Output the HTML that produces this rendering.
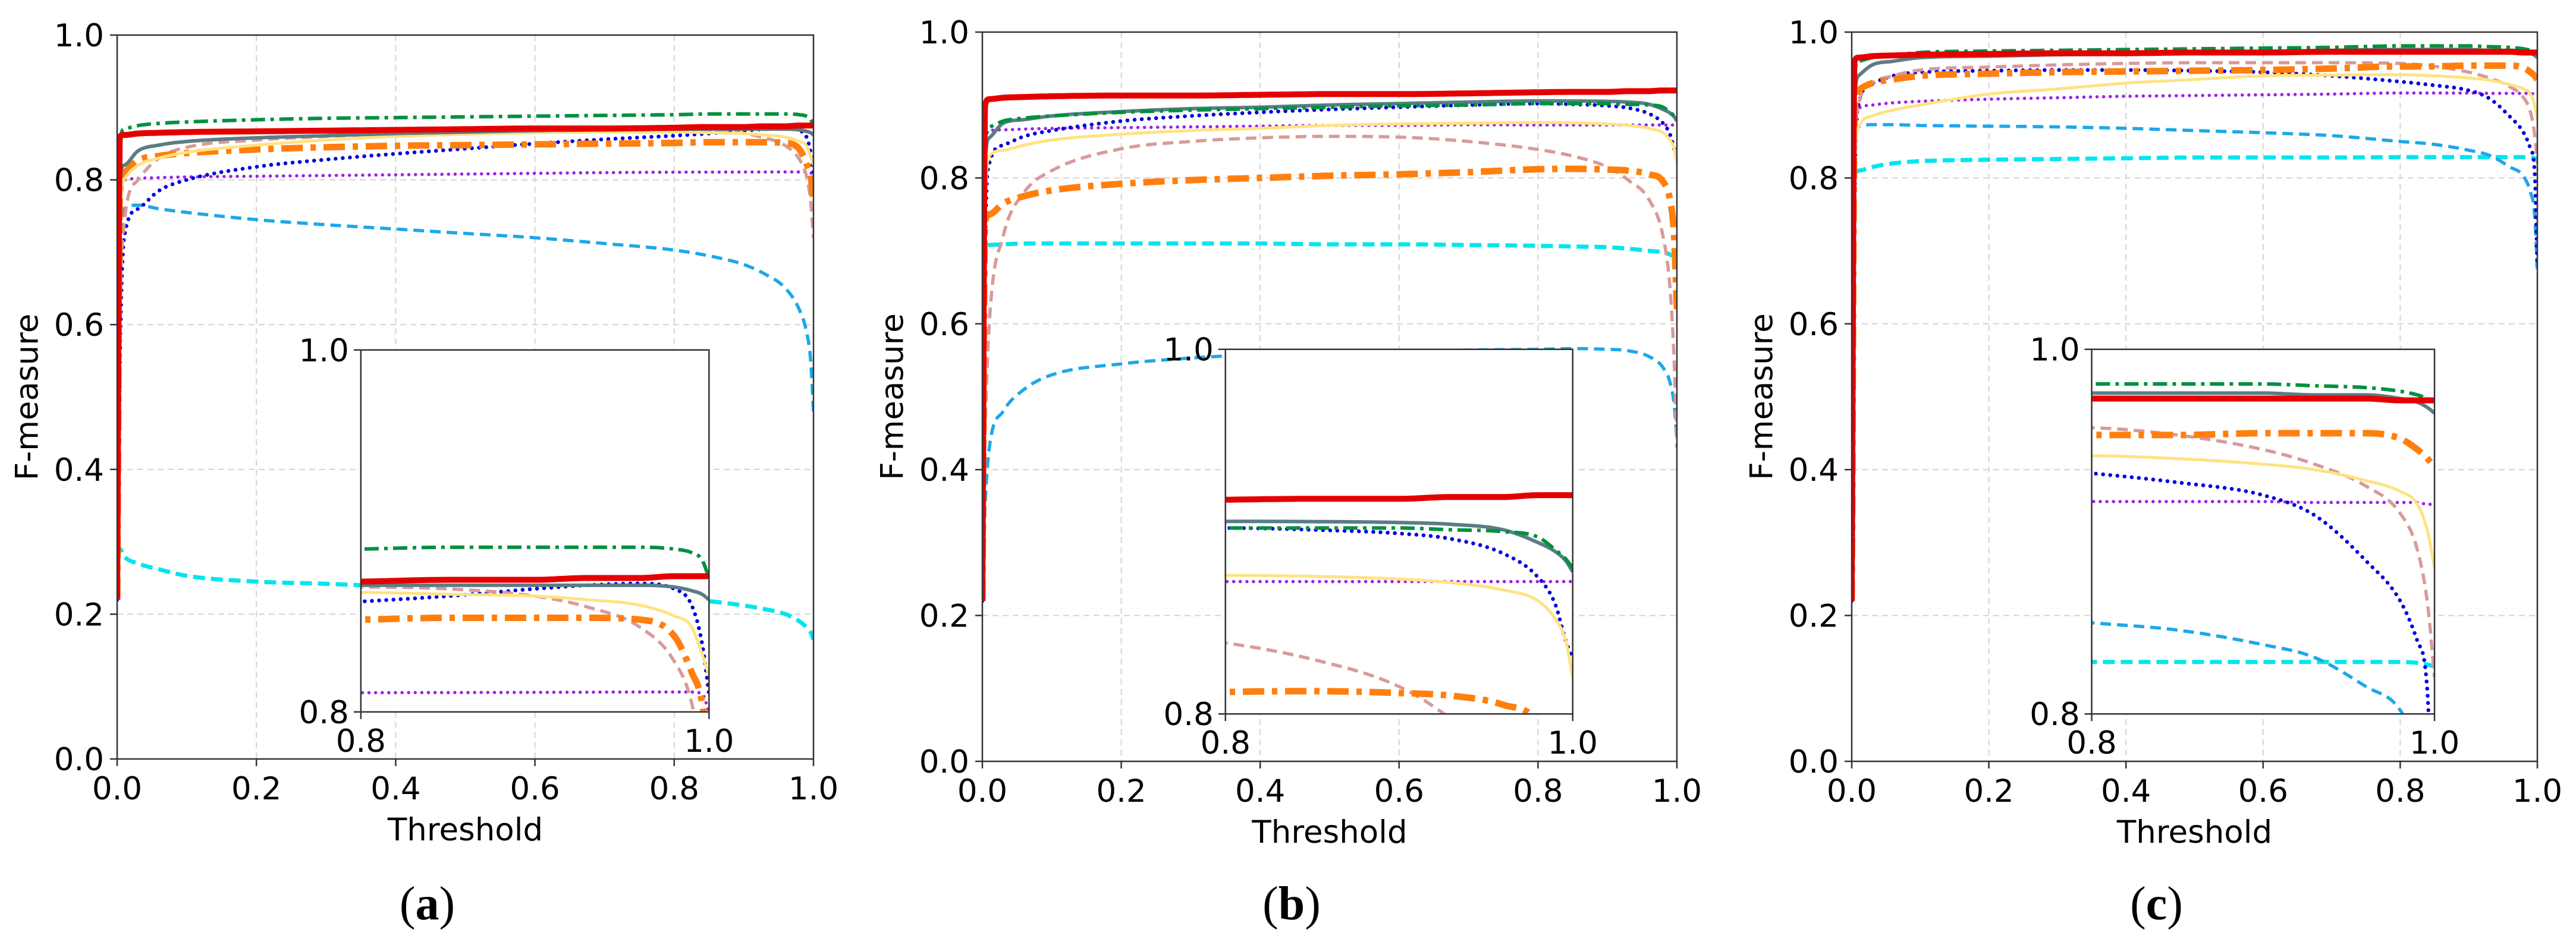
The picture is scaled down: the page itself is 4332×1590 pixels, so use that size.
<!DOCTYPE html>
<html>
<head>
<meta charset="utf-8">
<style>
html,body{margin:0;padding:0;background:#fff;overflow:hidden;width:4332px;height:1590px;}
svg{display:block;}
text{font-family:"DejaVu Sans","Liberation Sans",sans-serif;fill:#000;}
.cap{font-family:"Liberation Serif",serif;}
</style>
</head>
<body>
<svg id="fig" xmlns="http://www.w3.org/2000/svg" width="4332" height="1590" viewBox="0 0 4332 1590"></svg>
<script>
// ---- data ----
const thresholds = [0,0.004,0.01,0.03,0.06,0.1,0.2,0.3,0.4,0.5,0.6,0.7,0.8,0.85,0.9,0.93,0.96,0.98,0.99,0.996,1.0];
const axisTicks = [0,0.2,0.4,0.6,0.8,1.0];
const axisTickLabels = ["0.0","0.2","0.4","0.6","0.8","1.0"];
const insetTicks = [0.8,1.0];
const insetTickLabels = ["0.8","1.0"];
const captions = ["(a)","(b)","(c)"];

// panel (a)
const aCyan    = [0.28,0.29,0.28,0.27,0.262,0.253,0.245,0.242,0.238,0.235,0.232,0.228,0.222,0.218,0.212,0.207,0.2,0.19,0.182,0.175,0.165];
const aSky     = [0.22,0.6,0.76,0.765,0.76,0.755,0.745,0.738,0.732,0.726,0.72,0.712,0.703,0.695,0.683,0.67,0.65,0.62,0.59,0.55,0.48];
const aPurple  = [0.22,0.78,0.8,0.802,0.803,0.804,0.805,0.806,0.807,0.808,0.809,0.81,0.8106,0.8107,0.8108,0.8109,0.811,0.811,0.811,0.81,0.8];
const aBlue    = [0.22,0.55,0.72,0.76,0.785,0.8,0.818,0.828,0.836,0.843,0.85,0.856,0.861,0.864,0.868,0.87,0.871,0.868,0.859,0.838,0.81];
const aPink    = [0.22,0.6,0.74,0.8,0.83,0.845,0.855,0.86,0.864,0.866,0.868,0.869,0.869,0.868,0.864,0.858,0.847,0.828,0.805,0.77,0.72];
const aOrange  = [0.22,0.78,0.81,0.827,0.833,0.837,0.842,0.845,0.847,0.848,0.849,0.85,0.851,0.852,0.852,0.852,0.851,0.842,0.822,0.805,0.77];
const aYellow  = [0.22,0.75,0.8,0.82,0.83,0.838,0.848,0.855,0.86,0.863,0.865,0.866,0.866,0.865,0.864,0.862,0.859,0.853,0.847,0.832,0.82];
const aSlate   = [0.22,0.8,0.82,0.84,0.848,0.853,0.858,0.861,0.864,0.866,0.868,0.869,0.87,0.87,0.87,0.87,0.87,0.869,0.867,0.865,0.862];
const aGreen   = [0.22,0.85,0.87,0.875,0.878,0.88,0.883,0.885,0.886,0.887,0.888,0.889,0.89,0.891,0.891,0.891,0.891,0.89,0.888,0.884,0.874];
const aRed     = [0.22,0.86,0.862,0.864,0.865,0.866,0.867,0.868,0.869,0.87,0.871,0.871,0.872,0.873,0.873,0.874,0.874,0.875,0.875,0.875,0.875];

// panel (b)
const bCyan    = [0.22,0.7,0.708,0.709,0.71,0.71,0.71,0.71,0.71,0.709,0.709,0.708,0.707,0.706,0.705,0.703,0.7,0.698,0.695,0.692,0.69];
const bSky     = [0.22,0.35,0.43,0.48,0.51,0.53,0.545,0.553,0.558,0.56,0.562,0.564,0.565,0.566,0.565,0.563,0.555,0.54,0.52,0.49,0.44];
const bPurple  = [0.22,0.84,0.865,0.866,0.867,0.868,0.869,0.87,0.871,0.872,0.872,0.873,0.8726,0.8726,0.8726,0.8726,0.8726,0.8726,0.8726,0.8726,0.8726];
const bBlue    = [0.22,0.7,0.82,0.845,0.857,0.865,0.878,0.885,0.89,0.894,0.897,0.9,0.902,0.901,0.899,0.896,0.888,0.875,0.86,0.84,0.83];
const bPink    = [0.22,0.45,0.6,0.72,0.78,0.81,0.84,0.85,0.855,0.857,0.856,0.85,0.839,0.83,0.815,0.797,0.77,0.72,0.65,0.55,0.43];
const bOrange  = [0.22,0.74,0.75,0.765,0.775,0.783,0.792,0.797,0.8,0.803,0.805,0.808,0.812,0.8125,0.8115,0.81,0.805,0.795,0.77,0.72,0.62];
const bYellow  = [0.22,0.75,0.83,0.838,0.845,0.852,0.86,0.865,0.868,0.872,0.874,0.875,0.876,0.8755,0.874,0.872,0.868,0.862,0.852,0.84,0.82];
const bSlate   = [0.22,0.82,0.855,0.875,0.88,0.885,0.891,0.895,0.897,0.9,0.902,0.904,0.9056,0.9055,0.905,0.904,0.901,0.894,0.889,0.884,0.878];
const bGreen   = [0.22,0.85,0.87,0.878,0.882,0.885,0.89,0.893,0.895,0.897,0.899,0.9,0.902,0.902,0.902,0.901,0.9,0.897,0.89,0.885,0.88];
const bRed     = [0.22,0.9,0.908,0.91,0.911,0.912,0.913,0.913,0.914,0.915,0.915,0.916,0.9175,0.918,0.918,0.919,0.919,0.92,0.92,0.92,0.92];

// panel (c)
const cCyan    = [0.22,0.8,0.81,0.815,0.82,0.823,0.825,0.826,0.827,0.828,0.828,0.828,0.8285,0.8285,0.8285,0.8285,0.8285,0.8285,0.828,0.827,0.826];
const cSky     = [0.22,0.8,0.87,0.873,0.873,0.872,0.871,0.87,0.868,0.865,0.862,0.858,0.85,0.846,0.838,0.831,0.815,0.802,0.78,0.75,0.67];
const cPurple  = [0.22,0.85,0.895,0.9,0.903,0.905,0.908,0.91,0.912,0.913,0.914,0.915,0.9165,0.9165,0.9165,0.916,0.916,0.916,0.916,0.915,0.915];
const cBlue    = [0.22,0.75,0.9,0.93,0.94,0.945,0.947,0.948,0.948,0.947,0.945,0.94,0.932,0.927,0.92,0.909,0.884,0.862,0.84,0.81,0.68];
const cPink    = [0.22,0.8,0.9,0.93,0.94,0.948,0.952,0.955,0.957,0.958,0.958,0.958,0.957,0.953,0.945,0.937,0.925,0.91,0.89,0.86,0.82];
const cOrange  = [0.22,0.88,0.92,0.93,0.935,0.94,0.943,0.945,0.946,0.947,0.948,0.95,0.953,0.953,0.954,0.954,0.954,0.951,0.945,0.94,0.935];
const cYellow  = [0.22,0.8,0.87,0.885,0.893,0.9,0.915,0.922,0.93,0.935,0.94,0.941,0.9416,0.94,0.937,0.934,0.928,0.922,0.915,0.9,0.88];
const cSlate   = [0.22,0.9,0.94,0.955,0.96,0.965,0.967,0.969,0.97,0.972,0.973,0.975,0.976,0.976,0.976,0.975,0.975,0.973,0.971,0.968,0.965];
const cGreen   = [0.22,0.94,0.96,0.965,0.968,0.972,0.974,0.975,0.976,0.977,0.978,0.979,0.981,0.981,0.981,0.98,0.979,0.977,0.975,0.973,0.972];
const cRed     = [0.22,0.96,0.965,0.967,0.968,0.969,0.97,0.971,0.971,0.972,0.972,0.973,0.973,0.973,0.973,0.973,0.973,0.972,0.972,0.972,0.972];

// ---- styles & layout ----
const styles = {
  cyan:{c:"#00e5ee",w:7,d:"20 10",cap:"butt"},
  sky:{c:"#1ea7ea",w:5.5,d:"18 10",cap:"butt"},
  purple:{c:"#9b22e8",w:5.5,d:"0.1 11",cap:"round"},
  blue:{c:"#0000dd",w:6.5,d:"0.1 12",cap:"round"},
  pink:{c:"#d99a9a",w:5.5,d:"18 10",cap:"butt"},
  orange:{c:"#ff7f0e",w:11,d:"36 13 9 13",cap:"butt"},
  yellow:{c:"#ffe382",w:5,d:"",cap:"butt"},
  slate:{c:"#5b7d85",w:6,d:"",cap:"butt"},
  green:{c:"#00913f",w:6,d:"24 9 6 9",cap:"butt"},
  red:{c:"#e50000",w:10,d:"",cap:"butt"}
};
const panels = [
  {id:"a",L:197,R:1368,T:59,B:1277,series:{cyan:aCyan,sky:aSky,purple:aPurple,blue:aBlue,pink:aPink,orange:aOrange,yellow:aYellow,slate:aSlate,green:aGreen,red:aRed}},
  {id:"b",L:1652,R:2820,T:54,B:1281,series:{cyan:bCyan,sky:bSky,purple:bPurple,blue:bBlue,pink:bPink,orange:bOrange,yellow:bYellow,slate:bSlate,green:bGreen,red:bRed}},
  {id:"c",L:3114,R:4267,T:54,B:1281,series:{cyan:cCyan,sky:cSky,purple:cPurple,blue:cBlue,pink:cPink,orange:cOrange,yellow:cYellow,slate:cSlate,green:cGreen,red:cRed}}
];

const NS="http://www.w3.org/2000/svg";
const svg=document.getElementById("fig");
function mk(tag,attrs,parent){const e=document.createElementNS(NS,tag);for(const k in attrs)e.setAttribute(k,attrs[k]);(parent||svg).appendChild(e);return e;}

// monotone cubic sampling
function sampleCurve(xs,ys){
  const n=xs.length,d=[],m=new Array(n).fill(0);
  for(let i=0;i<n-1;i++)d.push((ys[i+1]-ys[i])/(xs[i+1]-xs[i]));
  m[0]=d[0];m[n-1]=d[n-2];
  for(let i=1;i<n-1;i++){m[i]=(d[i-1]*d[i]<=0)?0:(d[i-1]+d[i])/2;}
  for(let i=0;i<n-1;i++){
    if(d[i]===0){m[i]=0;m[i+1]=0;continue;}
    const a=m[i]/d[i],b=m[i+1]/d[i],s=a*a+b*b;
    if(s>9){const t=3/Math.sqrt(s);m[i]=t*a*d[i];m[i+1]=t*b*d[i];}
  }
  const pts=[];
  for(let i=0;i<n-1;i++){
    const h=xs[i+1]-xs[i],N=14;
    for(let k=0;k<N;k++){const t=k/N,t2=t*t,t3=t2*t;
      const y=(2*t3-3*t2+1)*ys[i]+(t3-2*t2+t)*h*m[i]+(-2*t3+3*t2)*ys[i+1]+(t3-t2)*h*m[i+1];
      pts.push([xs[i]+t*h,y]);}
  }
  pts.push([xs[n-1],ys[n-1]]);
  return pts;
}

const order=["cyan","sky","purple","blue","pink","orange","yellow","slate","green","red"];

panels.forEach(p=>{
  const g=mk("g",{});
  
  
  const W=p.R-p.L,H=p.B-p.T;
  const sx=v=>p.L+v*W, sy=v=>p.B-v*H;
  const iL=p.L+0.35*W,iR=p.L+0.85*W,iT=p.T+0.435*H,iB=p.T+0.935*H;
  const ix=v=>iL+(v-0.8)/0.2*(iR-iL), iy=v=>iB-(v-0.8)/0.2*(iB-iT);

  const defs=mk("defs",{},g);
  const cp=mk("clipPath",{id:"clip-"+p.id},defs);mk("rect",{x:p.L,y:p.T,width:W,height:H},cp);
  const cpi=mk("clipPath",{id:"clipi-"+p.id},defs);mk("rect",{x:iL,y:iT,width:iR-iL,height:iB-iT},cpi);

  const grid=mk("g",{stroke:"#d4d4d4","stroke-width":2,"stroke-dasharray":"10 7"},g);
  
  
  [0.2,0.4,0.6,0.8].forEach(v=>{
    mk("line",{x1:sx(v),x2:sx(v),y1:p.T,y2:p.B},grid);
    mk("line",{x1:p.L,x2:p.R,y1:sy(v),y2:sy(v)},grid);
  });

  const mainG=mk("g",{"clip-path":"url(#clip-"+p.id+")",fill:"none","stroke-linejoin":"round"},g);
  order.forEach(k=>{
    const st=styles[k],pts=sampleCurve(thresholds,p.series[k]);
    const path=mk("path",{d:"M"+pts.map(q=>sx(q[0]).toFixed(1)+","+sy(q[1]).toFixed(1)).join("L"),stroke:st.c,"stroke-width":st.w,"stroke-dasharray":st.d,"stroke-linecap":st.cap},mainG);
    
    
  });

  const inset=mk("g",{},g);
  
  
  mk("rect",{x:iL,y:iT,width:iR-iL,height:iB-iT,fill:"#fff"},inset);
  const insG=mk("g",{"clip-path":"url(#clipi-"+p.id+")",fill:"none","stroke-linejoin":"round"},inset);
  order.forEach(k=>{
    const st=styles[k],pts=sampleCurve(thresholds,p.series[k]).filter(q=>q[0]>=0.78);
    const path=mk("path",{d:"M"+pts.map(q=>ix(q[0]).toFixed(1)+","+iy(q[1]).toFixed(1)).join("L"),stroke:st.c,"stroke-width":st.w,"stroke-dasharray":st.d,"stroke-linecap":st.cap},insG);
    
    
  });
  mk("rect",{x:iL,y:iT,width:iR-iL,height:iB-iT,fill:"none",stroke:"#333","stroke-width":2.5},inset);
  insetTicks.forEach((v,i)=>{
    mk("line",{x1:iL-12,x2:iL,y1:iy(v),y2:iy(v),stroke:"#333","stroke-width":2.5},inset);
    const ty=mk("text",{x:iL-20,y:iy(v)+19,"font-size":53,"text-anchor":"end"},inset);ty.textContent=insetTickLabels[i];
    
    
    mk("line",{x1:ix(v),x2:ix(v),y1:iB,y2:iB+12,stroke:"#333","stroke-width":2.5},inset);
    const tx=mk("text",{x:ix(v),y:iB+67,"font-size":53,"text-anchor":"middle"},inset);tx.textContent=insetTickLabels[i];
    
    
  });

  mk("rect",{x:p.L,y:p.T,width:W,height:H,fill:"none",stroke:"#333","stroke-width":2.5},g);
  axisTicks.forEach((v,i)=>{
    mk("line",{x1:p.L-12,x2:p.L,y1:sy(v),y2:sy(v),stroke:"#333","stroke-width":2.5},g);
    const ty=mk("text",{x:p.L-22,y:sy(v)+19,"font-size":53,"text-anchor":"end"},g);ty.textContent=axisTickLabels[i];
    
    
    mk("line",{x1:sx(v),x2:sx(v),y1:p.B,y2:p.B+12,stroke:"#333","stroke-width":2.5},g);
    const tx=mk("text",{x:sx(v),y:p.B+68,"font-size":53,"text-anchor":"middle"},g);tx.textContent=axisTickLabels[i];
    
    
  });
  const xl=mk("text",{x:(p.L+p.R)/2,y:p.B+137,"font-size":53,"text-anchor":"middle"},g);xl.textContent="Threshold";
  
  
  const cy=(p.T+p.B)/2,cx=p.L-151;
  const yl=mk("text",{x:cx,y:cy,"font-size":53,"text-anchor":"middle","dominant-baseline":"central",transform:"rotate(-90 "+cx+" "+cy+")"},g);yl.textContent="F-measure";
  
  
  const idx=panels.indexOf(p);
  const cap=mk("text",{x:(p.L+p.R)/2-64,y:1547,"font-size":80,"text-anchor":"middle",class:"cap"},g);
  cap.innerHTML='(<tspan font-weight="bold">'+captions[idx].slice(1,2)+'</tspan>)';
  
  
});
</script>
</body>
</html>
